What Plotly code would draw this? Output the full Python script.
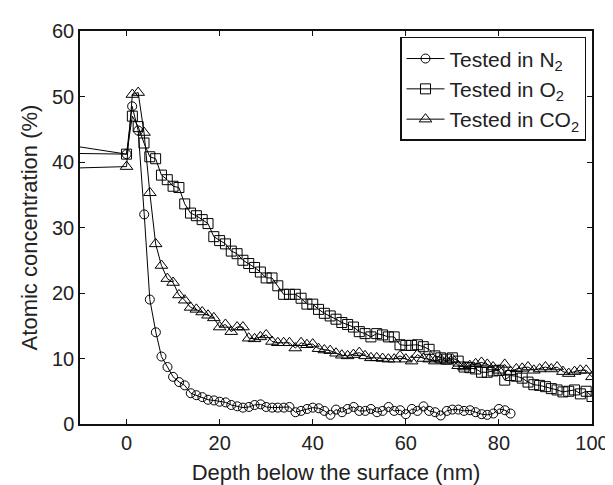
import plotly.graph_objects as go

# ---- data ----
n2_x = [-20, 0, 1.2, 2.5, 3.8, 5.0, 6.3, 7.5, 8.8, 10.0, 11.3, 12.5, 13.8, 15.0, 16.3, 17.5, 18.8,
        20.0, 21.3, 22.5, 23.8, 25.0, 26.3, 27.5, 28.8, 30.0, 31.3, 32.5, 33.8, 35.0, 36.3, 37.5,
        38.8, 40.0, 41.3, 42.5, 43.8, 45.0, 46.3, 47.5, 48.8, 50.0, 51.3, 52.5, 53.8, 55.0, 56.3,
        57.5, 58.8, 60.0, 61.3, 62.5, 63.8, 65.0, 66.3, 67.5, 68.8, 70.0, 71.3, 72.5, 73.8, 75.0,
        76.3, 77.5, 78.8, 80.0, 81.3, 82.5]
n2_y = [43.4, 41.2, 48.5, 44.8, 32.0, 19.0, 14.0, 10.3, 8.7, 7.2, 6.4, 5.9, 4.7, 4.4, 4.1, 3.7, 3.6,
        3.4, 3.3, 2.9, 2.7, 2.5, 2.6, 2.9, 3.0, 2.6, 2.5, 2.5, 2.5, 2.6, 1.8, 2.0,
        2.3, 2.5, 2.4, 2.0, 1.4, 2.2, 1.8, 2.3, 2.6, 2.0, 2.0, 2.3, 1.8, 2.0, 2.6,
        2.0, 2.1, 1.5, 2.3, 2.0, 2.7, 2.0, 1.8, 1.3, 2.0, 2.2, 2.2, 2.0, 2.1, 1.8,
        1.5, 1.4, 1.6, 2.3, 2.1, 1.6]

o2_x = [-20, 0, 1.25, 2.5, 3.75, 5.0, 6.25, 7.5, 8.75, 10.0, 11.25, 12.5, 13.75, 15.0, 16.25, 17.5,
        18.75, 20.0, 21.25, 22.5, 23.75, 25.0, 26.25, 27.5, 28.75, 30.0, 31.25, 32.5, 33.75, 35.0,
        36.25, 37.5, 38.75, 40.0, 41.25, 42.5, 43.75, 45.0, 46.25, 47.5, 48.75, 50.0, 51.25, 52.5,
        53.75, 55.0, 56.25, 57.5, 58.75, 60.0, 61.25, 62.5, 63.75, 65.0, 66.25, 67.5, 68.75, 70.0,
        71.25, 72.5, 73.75, 75.0, 76.25, 77.5, 78.75, 80.0, 81.25, 82.5, 83.75, 85.0, 86.25, 87.5,
        88.75, 90.0, 91.25, 92.5, 93.75, 95.0, 96.25, 97.5, 98.75, 100.0]
o2_y = [41.4, 41.2, 47.0, 45.4, 42.9, 40.8, 40.5, 38.0, 37.3, 36.3, 36.1, 33.6, 32.2, 31.8, 31.2, 30.6,
        28.6, 28.0, 27.5, 26.4, 26.0, 25.0, 24.5, 23.9, 23.2, 22.3, 22.3, 21.1, 19.8, 19.8,
        19.8, 19.2, 18.3, 18.3, 17.5, 16.9, 16.5, 16.0, 15.5, 15.2, 14.8, 14.1, 13.8, 13.3,
        13.8, 13.6, 13.3, 13.3, 12.1, 12.0, 12.0, 12.1, 11.8, 11.4, 10.4, 10.1, 9.9, 10.1,
        9.6, 8.7, 8.6, 8.4, 7.9, 7.9, 8.1, 8.2, 6.7, 7.4, 7.3, 7.0, 6.4, 6.0,
        5.9, 5.7, 5.4, 5.2, 4.9, 5.0, 5.2, 4.6, 5.0, 4.2]

co2_x = o2_x
co2_y = [38.9, 39.3, 50.3, 50.6, 44.5, 35.3, 27.5, 24.2, 22.2, 21.6, 19.7, 18.9, 17.8, 17.5, 17.1, 16.6,
         16.2, 14.8, 15.2, 14.1, 14.8, 14.8, 13.1, 13.0, 13.3, 13.6, 12.6, 12.4, 12.4, 12.4,
         11.6, 12.4, 12.1, 12.2, 11.5, 11.3, 11.2, 10.8, 10.5, 10.4, 10.6, 10.9, 10.4, 10.1,
         10.1, 10.0, 9.9, 9.9, 10.4, 9.9, 9.6, 10.6, 10.0, 9.9, 9.6, 9.9, 9.6, 9.9,
         8.9, 8.7, 8.9, 9.2, 9.4, 9.1, 8.7, 8.2, 9.1, 8.0, 8.4, 8.5, 8.7, 8.2,
         8.4, 8.7, 8.4, 8.7, 8.0, 7.7, 8.0, 8.2, 8.2, 7.2]

x_ticks = [0, 20, 40, 60, 80, 100]
y_ticks = [0, 10, 20, 30, 40, 50, 60]

series = [
    ("Tested in N<sub>2</sub>", n2_x, n2_y, "circle-open", 9),
    ("Tested in O<sub>2</sub>", o2_x, o2_y, "square-open", 10),
    ("Tested in CO<sub>2</sub>", co2_x, co2_y, "triangle-up-open", 11),
]

fig = go.Figure()
for name, xs, ys, sym, sz in series:
    fig.add_trace(go.Scatter(
        x=xs, y=ys, name=name, mode="lines+markers",
        line=dict(color="black", width=1),
        marker=dict(symbol=sym, size=sz, color="black", line=dict(width=1)),
    ))

font_family = "Liberation Sans, Arial, sans-serif"
axis_common = dict(
    showline=True, linecolor="#111", linewidth=1.5, mirror="ticks",
    ticks="inside", ticklen=5, tickcolor="#111", tickwidth=1,
    showgrid=False, zeroline=False,
    tickfont=dict(family=font_family, size=20, color="#222"),
)

fig.update_layout(
    width=613, height=485,
    margin=dict(l=72, r=17, t=20, b=66),
    paper_bgcolor="white", plot_bgcolor="white",
    font=dict(family=font_family, color="#222"),
    xaxis=dict(range=[-10, 100], tickvals=x_ticks,
               title=dict(text="Depth below the surface (nm)", font=dict(size=22), standoff=12),
               **axis_common),
    yaxis=dict(range=[0, 60], tickvals=y_ticks,
               title=dict(text="Atomic concentration (%)", font=dict(size=22), standoff=8),
               **axis_common),
    legend=dict(x=0.625, y=0.985, xanchor="left", yanchor="top",
                bordercolor="#111", borderwidth=1.5, bgcolor="white",
                font=dict(family=font_family, size=21, color="#222"),
                itemwidth=38, tracegroupgap=0),
    showlegend=True,
)

fig.write_html("out.html")
